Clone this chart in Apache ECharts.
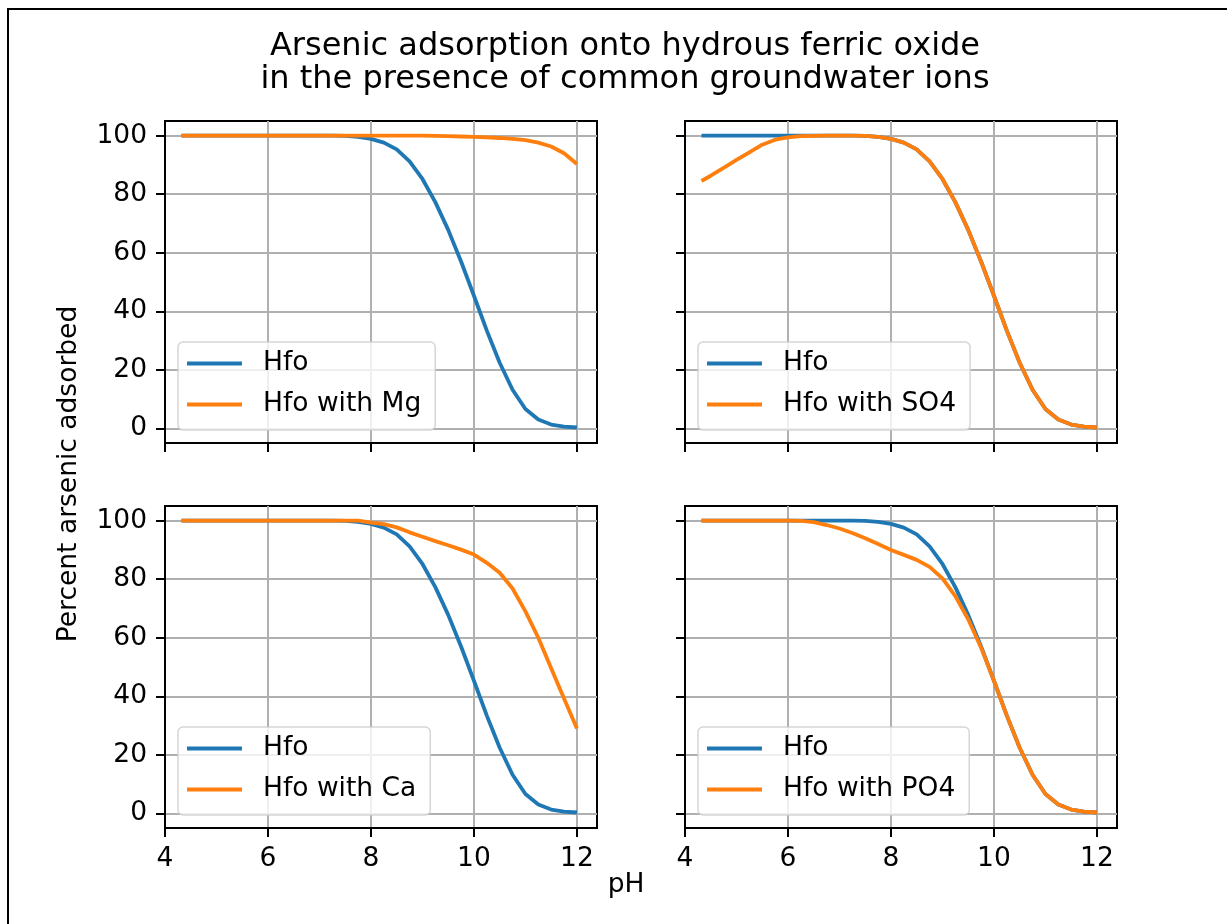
<!DOCTYPE html>
<html>
<head>
<meta charset="utf-8">
<script src="https://cdn.jsdelivr.net/npm/echarts@6/dist/echarts.min.js"></script>
<style>
  html, body { margin: 0; padding: 0; background: #fff; }
  #chart { width: 1227px; height: 924px; }
</style>
</head>
<body>
<div id="chart"></div>
<script>
// pH steps of the titration
const pH = [4.32, 4.5, 4.75, 5.0, 5.25, 5.5, 5.75, 6.0, 6.25, 6.5, 6.75, 7.0,
            7.25, 7.5, 7.75, 8.0, 8.25, 8.5, 8.75, 9.0, 9.25, 9.5, 9.75, 10.0,
            10.25, 10.5, 10.75, 11.0, 11.25, 11.5, 11.75, 12.0];

// Percent arsenic adsorbed, Hfo alone
const hfo = [100, 100, 100, 100, 100, 100, 100, 100, 100, 100, 100, 100,
             100, 99.9, 99.6, 98.9, 97.6, 95.3, 91.2, 85.2, 77.3, 67.8, 57.0, 45.3,
             33.4, 22.4, 13.2, 6.6, 3.0, 1.3, 0.6, 0.3];

// Hfo with Mg
const hfoMg = [100, 100, 100, 100, 100, 100, 100, 100, 100, 100, 100, 100,
               100, 100, 100, 100, 100, 100, 100, 100, 99.9, 99.8, 99.7, 99.6,
               99.4, 99.2, 98.9, 98.5, 97.6, 96.3, 94.0, 90.3];

// Hfo with SO4
const hfoSO4 = [84.5, 86.3, 89.0, 91.7, 94.3, 96.9, 98.6, 99.4, 99.8, 99.9, 100, 100,
                100, 99.9, 99.6, 98.9, 97.6, 95.3, 91.2, 85.2, 77.3, 67.8, 57.0, 45.3,
                33.4, 22.4, 13.2, 6.6, 3.0, 1.3, 0.6, 0.3];

// Hfo with Ca
const hfoCa = [100, 100, 100, 100, 100, 100, 100, 100, 100, 100, 100, 100,
               100, 100, 100, 99.3, 98.8, 97.7, 96.0, 94.5, 93.0, 91.6, 90.1, 88.4,
               85.6, 82.2, 76.8, 69.0, 60.0, 49.6, 39.2, 29.0];

// Hfo with PO4
const hfoPO4 = [100, 100, 100, 100, 100, 100, 100, 100, 99.9, 99.5, 98.5, 97.3,
                95.8, 94.0, 92.0, 90.0, 88.3, 86.6, 84.2, 80.3, 74.2, 66.3, 56.6, 45.3,
                33.4, 22.4, 13.2, 6.6, 3.0, 1.3, 0.6, 0.3];

const panelNames = ['Hfo with Mg', 'Hfo with SO4', 'Hfo with Ca', 'Hfo with PO4'];
const panelValues = [hfoMg, hfoSO4, hfoCa, hfoPO4];
const xTicks = [4, 6, 8, 10, 12];
const yTicks = [0, 20, 40, 60, 80, 100];

const FONT = 'DejaVu Sans';
const BLUE = '#1f77b4';
const ORANGE = '#ff7f0e';

// 2x2 layout: [left, top] of each axes box
const boxes = [[165, 121], [685, 121], [165, 506], [685, 506]];
const BOX_W = 432, BOX_H = 322;

const grids = [], xAxes = [], yAxes = [], series = [], legends = [];

boxes.forEach(function (b, i) {
  const isBottom = i >= 2;
  const isLeft = i % 2 === 0;
  grids.push({
    left: b[0], top: b[1], width: BOX_W, height: BOX_H,
    show: true, borderColor: '#000', borderWidth: 2,
    backgroundColor: 'transparent', containLabel: false
  });
  xAxes.push({
    type: 'value', gridIndex: i, min: 4, max: 12.39,
    axisLine: { show: true, onZero: false, lineStyle: { color: '#000', width: 2 } },
    axisTick: { show: true, inside: false, length: 9, customValues: xTicks,
                lineStyle: { color: '#000', width: 2 } },
    axisLabel: { show: isBottom, customValues: xTicks, margin: 18,
                 color: '#000', fontFamily: FONT, fontSize: 26.5 },
    splitLine: { show: true, lineStyle: { color: '#b0b0b0', width: 2 } }
  });
  yAxes.push({
    type: 'value', gridIndex: i, min: -5, max: 105,
    axisLine: { show: true, onZero: false, lineStyle: { color: '#000', width: 2 } },
    axisTick: { show: true, inside: false, length: 9, customValues: yTicks,
                lineStyle: { color: '#000', width: 2 } },
    axisLabel: { show: isLeft, customValues: yTicks, margin: 18,
                 color: '#000', fontFamily: FONT, fontSize: 26.5 },
    splitLine: { show: true, lineStyle: { color: '#b0b0b0', width: 2 } }
  });
  series.push({
    name: 'Hfo', type: 'line', xAxisIndex: i, yAxisIndex: i,
    data: pH.map(function (x, j) { return [x, hfo[j]]; }),
    showSymbol: false, symbol: 'none', clip: true,
    lineStyle: { color: BLUE, width: 3.8 }, itemStyle: { color: BLUE }, z: 3
  });
  series.push({
    name: panelNames[i], type: 'line', xAxisIndex: i, yAxisIndex: i,
    data: pH.map(function (x, j) { return [x, panelValues[i][j]]; }),
    showSymbol: false, symbol: 'none', clip: true,
    lineStyle: { color: ORANGE, width: 3.8 }, itemStyle: { color: ORANGE }, z: 4
  });
  legends.push({
    orient: 'vertical', left: b[0] + 13, top: b[1] + 221,
    data: ['Hfo', panelNames[i]], selectedMode: false,
    icon: 'rect', itemWidth: 55, itemHeight: 4, itemGap: 14,
    padding: [8, 14, 12, 9],
    backgroundColor: 'rgba(255,255,255,0.8)',
    borderColor: 'rgba(204,204,204,0.8)', borderWidth: 1.5, borderRadius: 5,
    textStyle: { color: '#000', fontFamily: FONT, fontSize: 26.5, lineHeight: 26,
                 padding: [0, 0, 0, 16] }
  });
});

const chart = echarts.init(document.getElementById('chart'), null, { renderer: 'canvas' });
chart.setOption({
  animation: false,
  backgroundColor: '#fff',
  grid: grids,
  xAxis: xAxes,
  yAxis: yAxes,
  legend: legends,
  series: series,
  graphic: [
    { type: 'rect', shape: { x: 8, y: 9, width: 1400, height: 1100 },
      style: { fill: 'none', stroke: '#000', lineWidth: 2 }, silent: true },
    { type: 'text', x: 625, y: 30,
      style: { text: 'Arsenic adsorption onto hydrous ferric oxide\nin the presence of common groundwater ions',
               font: '32px "DejaVu Sans"', fill: '#000', textAlign: 'center',
               textVerticalAlign: 'top', lineHeight: 33 } },
    { type: 'text', x: 69, y: 474, rotation: Math.PI / 2,
      style: { text: 'Percent arsenic adsorbed', font: '26.5px "DejaVu Sans"', fill: '#000',
               textAlign: 'center', textVerticalAlign: 'middle' } },
    { type: 'text', x: 626, y: 885,
      style: { text: 'pH', font: '26.5px "DejaVu Sans"', fill: '#000',
               textAlign: 'center', textVerticalAlign: 'middle' } }
  ]
});
</script>
</body>
</html>
